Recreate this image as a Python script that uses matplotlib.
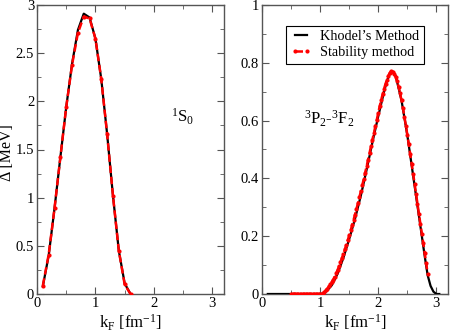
import matplotlib
matplotlib.use("Agg")
import matplotlib.pyplot as plt
from matplotlib.ticker import MultipleLocator, FormatStrFormatter

plt.rcParams['font.family'] = ['Liberation Serif', 'DejaVu Serif']
plt.rcParams['mathtext.fontset'] = 'custom'
plt.rcParams['mathtext.rm'] = 'Liberation Serif'
plt.rcParams['mathtext.it'] = 'Liberation Serif:italic'
plt.rcParams['mathtext.bf'] = 'Liberation Serif:bold'

# ---- 1S0 channel ----
s_k = [0.1, 0.2, 0.3, 0.4, 0.5, 0.6, 0.7, 0.8, 0.9, 1.0, 1.1, 1.2, 1.3, 1.4, 1.5, 1.6]
s_khodel = [0.08, 0.40, 0.89, 1.42, 1.94, 2.39, 2.74, 2.91, 2.87, 2.65, 2.23, 1.66, 1.02, 0.45, 0.11, 0.0]
s_stab = [0.087, 0.41, 0.89, 1.42, 1.94, 2.38, 2.71, 2.88, 2.86, 2.65, 2.23, 1.66, 1.02, 0.45, 0.10, 0.0]

# ---- 3P2-3F2 channel ----
p_k_khodel = [0.1, 0.2, 0.3, 0.4, 0.5, 0.6, 0.7, 0.8, 0.9, 1.0, 1.05, 1.1, 1.2, 1.3, 1.4, 1.5,
              1.6, 1.7, 1.8, 1.9, 2.0, 2.1, 2.15, 2.2, 2.25, 2.3, 2.4, 2.5, 2.6, 2.7, 2.8,
              2.85, 2.9, 2.95, 3.0, 3.05]
p_khodel = [0, 0, 0, 0, 0, 0, 0, 0, 0, 0, 0.002, 0.008, 0.03, 0.07, 0.125, 0.19,
            0.26, 0.34, 0.43, 0.525, 0.615, 0.70, 0.738, 0.762, 0.770, 0.755, 0.670, 0.550,
            0.410, 0.270, 0.130, 0.065, 0.028, 0.008, 0.0, 0.0]

p_k_stab = [0.500, 0.525, 0.550, 0.575, 0.600, 0.625, 0.650, 0.675, 0.700, 0.725,
            0.750, 0.775, 0.800, 0.825, 0.850, 0.875, 0.900, 0.925, 0.950, 0.975,
            1.000, 1.025, 1.050, 1.075, 1.100, 1.125, 1.150, 1.175, 1.200, 1.225,
            1.250, 1.275, 1.300, 1.325, 1.350, 1.375, 1.400, 1.425, 1.450, 1.475,
            1.500, 1.525, 1.550, 1.575, 1.600, 1.625, 1.650, 1.675, 1.700, 1.725,
            1.750, 1.775, 1.800, 1.825, 1.850, 1.875, 1.900, 1.925, 1.950, 1.975,
            2.000, 2.025, 2.050, 2.075, 2.100, 2.125, 2.150, 2.175, 2.200, 2.225,
            2.250, 2.275, 2.300, 2.325, 2.350, 2.375, 2.400, 2.425, 2.450, 2.475,
            2.500, 2.525, 2.550, 2.575, 2.600, 2.625, 2.650, 2.675, 2.700, 2.725,
            2.750, 2.775, 2.800, 2.825, 2.850]
p_stab = [0, 0, 0, 0, 0, 0, 0, 0, 0, 0,
          0, 0, 0, 0, 0, 0, 0, 0, 0, 0,
          0.0, 0.001, 0.004, 0.008, 0.013, 0.019, 0.026, 0.033, 0.041, 0.050,
          0.060, 0.071, 0.083, 0.096, 0.110, 0.124, 0.139, 0.154, 0.170, 0.186,
          0.203, 0.220, 0.238, 0.256, 0.275, 0.294, 0.314, 0.334, 0.355, 0.376,
          0.398, 0.420, 0.442, 0.465, 0.488, 0.511, 0.534, 0.557, 0.580, 0.603,
          0.627, 0.650, 0.671, 0.691, 0.710, 0.727, 0.742, 0.756, 0.766, 0.771,
          0.769, 0.762, 0.751, 0.736, 0.717, 0.695, 0.670, 0.643, 0.614, 0.583,
          0.551, 0.518, 0.484, 0.450, 0.416, 0.382, 0.347, 0.312, 0.277, 0.243,
          0.209, 0.175, 0.141, 0.106, 0.070]

legend_labels = ["Khodel\u2019s Method", "Stability method"]

fig = plt.figure(figsize=(4.5, 3.35), dpi=100)
W, H = 450.0, 335.0
ax1 = fig.add_axes([37 / W, 41 / H, 187 / W, 289 / H])
ax2 = fig.add_axes([262 / W, 41 / H, 186 / W, 289 / H])

frame_col = '#555555'
for ax in (ax1, ax2):
    for sp in ax.spines.values():
        sp.set_color(frame_col)
        sp.set_linewidth(1.0)
    ax.tick_params(which='both', direction='in', top=True, right=True,
                   colors=frame_col, labelcolor='black', labelsize=10.5, pad=2)
    ax.tick_params(which='major', length=5)
    ax.tick_params(which='minor', length=3)
    ax.set_xlim(0, 3.2)
    ax.xaxis.set_major_locator(MultipleLocator(1))
    ax.xaxis.set_minor_locator(MultipleLocator(0.5))
    ax.xaxis.set_major_formatter(FormatStrFormatter('%g'))
    ax.yaxis.set_major_formatter(FormatStrFormatter('%g'))
    ax.set_xlabel(r'k$_\mathrm{F}$ [fm$^{-1}$]', fontsize=12, labelpad=2)

# left panel
ax1.plot(s_k, s_khodel, color='black', lw=1.6, zorder=3)
ax1.plot(s_k, s_stab, color='red', lw=1.8, ls=(0, (3, 1.5)), marker='o', ms=3,
         mew=0, zorder=4)
ax1.set_ylim(0, 3)
ax1.yaxis.set_major_locator(MultipleLocator(0.5))
ax1.yaxis.set_minor_locator(MultipleLocator(0.25))
ax1.set_ylabel('\u0394 [MeV]', fontsize=11.5)
ax1.yaxis.set_label_coords(-0.118, 0.49)
ax1.text(2.3, 1.84, r'$^{1}\mathrm{S}_{0}$', fontsize=12, va='center')

# right panel
l1, = ax2.plot(p_k_khodel, p_khodel, color='black', lw=1.6, zorder=3)
l2, = ax2.plot(p_k_stab, p_stab, color='red', lw=1.8, ls=(0, (3, 1.5)), marker='o',
               ms=3, mew=0, zorder=4)
ax2.set_ylim(0, 1)
ax2.yaxis.set_major_locator(MultipleLocator(0.2))
ax2.yaxis.set_minor_locator(MultipleLocator(0.1))
ax2.text(0.72, 0.605, r'$^{3}\mathrm{P}_{2}$-$^{3}\mathrm{F}_{2}$', fontsize=12, va='center')
leg = ax2.legend([l1, l2], legend_labels, loc='upper left',
                 bbox_to_anchor=(0.129, 0.927), fontsize=10.3, frameon=True,
                 fancybox=False, edgecolor='black', framealpha=1,
                 handlelength=1.5, handletextpad=0.6, borderpad=0.3,
                 labelspacing=0.2, numpoints=2, borderaxespad=0)
leg.get_frame().set_linewidth(0.8)

fig.savefig('out.png', dpi=100)
